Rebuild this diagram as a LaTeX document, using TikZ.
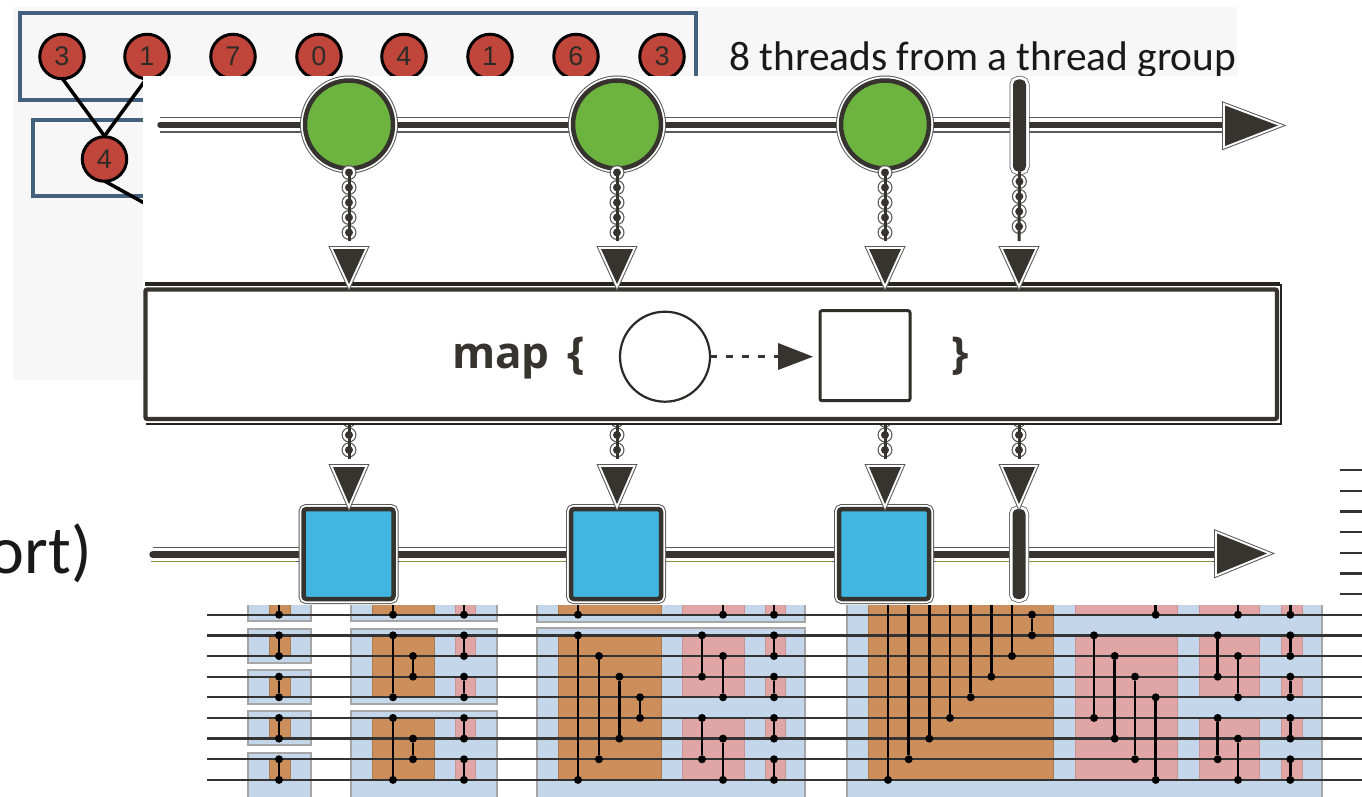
\documentclass[tikz,border=0pt]{standalone}
\usepackage{fontspec}
\setmainfont{Carlito}
\newfontfamily\digitfont{Liberation Sans}
\newfontfamily\mapfont{Open Sans}
\usetikzlibrary{calc}
\definecolor{slidebg}{HTML}{F7F7F7}
\definecolor{slideblue}{HTML}{44607F}
\definecolor{ballred}{HTML}{C0453A}
\definecolor{ink}{HTML}{37332E}
\definecolor{halo}{HTML}{5A5A5A}
\definecolor{marblegreen}{HTML}{6CB33F}
\definecolor{marbleblue}{HTML}{41B6E0}
\definecolor{olive}{HTML}{8F8F3A}
\definecolor{netblue}{HTML}{C3D6EA}
\definecolor{netorange}{HTML}{CC8F5C}
\definecolor{netpink}{HTML}{E0A5A5}
\newcount\cmpn
\tikzset{
  slidebox/.style={draw=slideblue,line width=4pt},
  ball/.style={circle,draw=black,line width=3pt,fill=ballred,minimum size=44.5pt,inner sep=0pt,outer sep=0pt,font=\digitfont\fontsize{27}{27}\selectfont,text=ink!85!black},
  balllink/.style={draw=black,line width=3.5pt},
  haloed/.style={preaction={draw=halo,line width=10pt},preaction={draw=white,line width=8pt}},
  marble/.style={circle,haloed,draw=ink,line width=4.5pt,fill=marblegreen,minimum size=88pt,inner sep=0pt,outer sep=0pt},
  squaremarble/.style={rectangle,rounded corners=3pt,haloed,draw=ink,line width=4.5pt,fill=marbleblue,minimum size=90pt,inner sep=0pt,outer sep=0pt},
  stopbar/.style={rectangle,rounded corners=5pt,preaction={draw=halo,line width=7pt},preaction={draw=white,line width=5.5pt},fill=ink,minimum width=13pt,inner sep=0pt,outer sep=0pt},
  rail/.style={draw=ink,line cap=round,line width=#1,preaction={draw=halo,line width=15.5pt},preaction={draw=white,line width=13pt}},
  headcore/.style={fill=ink,line join=round,preaction={draw=halo,line width=6pt},preaction={draw=white,line width=4pt}},
  beadA/.style={draw=halo,line width=15pt,line cap=round,dash pattern=on 0pt off 15pt},
  beadB/.style={draw=white,line width=12.5pt,line cap=round,dash pattern=on 0pt off 15pt},
  beadC/.style={draw=ink,line width=8pt,line cap=round,dash pattern=on 0pt off 15pt},
  beadlink/.style={draw=ink,line width=3pt},
  opbox/.style={rectangle,draw=ink,line width=4.4pt,fill=white,rounded corners=2pt,inner sep=0pt,outer sep=0pt},
  opedge/.style={draw=ink!70!black,line width=#1},
  opcircle/.style={circle,draw=ink!80!black,line width=2.2pt,minimum size=90pt,inner sep=0pt,outer sep=0pt},
  opsquare/.style={rectangle,rounded corners=2pt,draw=ink!90!black,line width=3pt,minimum size=90pt,inner sep=0pt,outer sep=0pt},
  opdash/.style={draw=ink,line width=2.6pt,dash pattern=on 6.5pt off 9.5pt},
  maplabel/.style={font=\mapfont\bfseries\fontsize{44}{44}\selectfont,text=ink,inner sep=0pt,outer sep=0pt},
  netbox/.style={fill=netblue,draw=black!35,line width=1.8pt},
  orangeband/.style={fill=netorange,draw=netorange!85!black,line width=.6pt},
  pinkband/.style={fill=netpink,draw=netpink!90!black,line width=.6pt},
  wire/.style={draw=black!80,line width=2.3pt},
  wdot/.style={circle,fill=black,minimum size=8pt,inner sep=0pt,outer sep=0pt},
  cmpline/.style={draw=black,line width=2.8pt}
}
\newcommand\beads[3]{%
  \draw[beadA,dash phase=#3] (#1) -- (#2);
  \draw[beadB,dash phase=#3] (#1) -- (#2);
  \draw[beadC,dash phase=#3] (#1) -- (#2);
  \draw[beadlink] (#1) -- (#2);
}
\newcommand\headdown[4]{\path[headcore] ({#1-#4},#2) -- ({#1+#4},#2) -- (#1,#3) -- cycle;}
\newcommand\cmp[3]{%
  \global\advance\cmpn by 1
  \pgfmathsetmacro\ya{614.7+20.65*#2}
  \pgfmathsetmacro\yb{614.7+20.65*#3}
  \node[wdot] (pa\the\cmpn) at (#1,\ya) {};
  \node[wdot] (pb\the\cmpn) at (#1,\yb) {};
  \draw[cmpline] (pa\the\cmpn) -- (pb\the\cmpn);
}
\newcommand\cmpt[2]{%
  \global\advance\cmpn by 1
  \pgfmathsetmacro\yb{614.7+20.65*#2}
  \coordinate (pa\the\cmpn) at (#1,605);
  \node[wdot] (pb\the\cmpn) at (#1,\yb) {};
  \draw[cmpline] (pa\the\cmpn) -- (pb\the\cmpn);
}
\newcommand\fiveb[3]{\foreach \a/\b in {600/614.7,635.3/656,676.7/697.3,718/738.7,759.3/780} \path[#1] (#2,\a) rectangle (#3,\b);}
\newcommand\threeb[3]{\foreach \a/\b in {600/614.7,635.3/697.3,718/780} \path[#1] (#2,\a) rectangle (#3,\b);}
\newcommand\pairs[1]{\cmpt{#1}{0}\cmp{#1}{1}{2}\cmp{#1}{3}{4}\cmp{#1}{5}{6}\cmp{#1}{7}{8}}
\begin{document}
\begin{tikzpicture}[x=1pt,y=-1pt]
\useasboundingbox (0,0) rectangle (1362,797);
\clip (0,0) rectangle (1362,797);
\fill[white] (0,0) rectangle (1362,797);
% slide behind
\fill[slidebg] (13,7) rectangle (1237,380);
\draw[slidebox] (19.5,13.5) rectangle (696,100);
\draw[slidebox] (33,120.5) rectangle (220,196);
\coordinate (midout) at (182,224);
\coordinate (t1s) at (62,78);
\coordinate (t2s) at (147,78);
\draw[balllink] (t1s) -- (104.5,136);
\draw[balllink] (t2s) -- (104.5,136);
\draw[balllink] (104.5,181) -- (midout);
\foreach \n/\x/\v in {1/62/3,2/147/1,3/233/7,4/319/0,5/404/4,6/490/1,7/576/6,8/662/3}
  \node[ball] (t\n) at (\x,56.5) {\v};
\node[ball] (mid) at (104.5,159) {4};
\node[anchor=base west,inner sep=0pt,font=\fontsize{41.4}{41.4}\selectfont,text=black!90] (threads) at (729,71) {8 threads from a thread group};
% white image
\fill[white] (143,76) rectangle (1362,605);
% large text fragment
\node[anchor=base east,inner sep=0pt,font=\fontsize{68}{68}\selectfont,text=black!90] (frag) at (92,573) {ort)};
% map box: inner frame plus the outer top, right and bottom edges
\node[opbox,minimum width=1131.5pt,minimum height=129.5pt] (op) at (711.2,354.2) {};
\draw[opedge=3.6pt] (145,284) -- (1280,284);
\draw[opedge=2pt] (1280.5,284) -- (1280.5,424) -- (146,424);
\node[maplabel,anchor=base west] (maptext) at (452,368) {map};
\node[maplabel,anchor=base west] (openbrace) at (567,368) {\{};
\node[opcircle] (opin) at (665,356.7) {};
\node[opsquare] (opout) at (865,355.7) {};
\coordinate (optip) at (813,356.7);
\coordinate (opbase) at (779,356.7);
\draw[opdash] (opin.east) -- (opbase);
\fill[ink] (778,343) -- (optip) -- (778,370) -- cycle;
\node[maplabel,anchor=base] (closebrace) at (960,368) {\}};
% upper timeline
\coordinate (railAstart) at (160,125);
\coordinate (railAend) at (1226,125);
\draw[rail=5.5pt] (railAstart) -- (railAend);
\path[headcore] (1225,105.5) -- (1278,125.5) -- (1225,146) -- cycle;
% lower timeline
\coordinate (railBstart) at (153,554.5);
\coordinate (railBend) at (1218,554.5);
\draw[rail=7.5pt] (railBstart) -- (railBend);
\draw[olive,line width=1.6pt] (151,561.6) -- (296,561.6) (400,561.6) -- (565,561.6) (667,561.6) -- (832,561.6) (936,561.6) -- (1212,561.6);
\path[headcore] (1217,533.5) -- (1267,553.5) -- (1217,574) -- cycle;
% coordinates where heads begin
\foreach \n/\x in {1/349,2/617,3/885,4/1019}{
  \coordinate (ha\n) at (\x,241);
  \coordinate (hb\n) at (\x,459);
}
% upper marbles
\node[marble] (c1) at (349,124.5) {};
\node[marble] (c2) at (617,124.5) {};
\node[marble] (c3) at (885,124.5) {};
\node[stopbar,minimum height=92pt] (s1) at (1019.5,125.5) {};
% bead connectors upper
\beads{c1.south}{ha1}{11}
\beads{c2.south}{ha2}{11}
\beads{c3.south}{ha3}{11}
\beads{s1.south}{ha4}{5}
\foreach \x in {349,617,885,1019} {\headdown{\x}{249}{284}{16}}
% lower marbles
\node[squaremarble] (q1) at (348.5,554) {};
\node[squaremarble] (q2) at (616,554) {};
\node[squaremarble] (q3) at (884,554) {};
\node[stopbar,minimum height=90pt] (s2) at (1019,554) {};
% bead connectors lower: drawn from the foot of the map box, first bead clear of it
\begin{scope}
\clip (300,425) rectangle (1100,470);
\beads{hb1 |- op.south}{hb1}{14}
\beads{hb2 |- op.south}{hb2}{14}
\beads{hb3 |- op.south}{hb3}{14}
\beads{hb4 |- op.south}{hb4}{14}
\end{scope}
\foreach \x in {349,617,885,1019} {\headdown{\x}{467}{504}{16}}
% sorting network bands
\begin{scope}
\clip (200,605) rectangle (1362,797);
\foreach \a/\b in {600/621,628.7/662.7,670/704,711/745,752.7/800}
  \path[netbox] (248,\a) rectangle (311,\b);
\foreach \a/\b in {600/621,628.7/704,711/800}
  \path[netbox] (351,\a) rectangle (496.6,\b);
\foreach \a/\b in {600/622,628/800}
  \path[netbox] (537,\a) rectangle (805,\b);
\path[netbox] (847,600) rectangle (1322,800);
\fiveb{orangeband}{269}{290}
\threeb{orangeband}{372}{434}
\fiveb{pinkband}{455}{475.5}
\foreach \a/\b in {600/614.7,635.3/780} \path[orangeband] (558,\a) rectangle (661,\b);
\threeb{pinkband}{682}{744}
\fiveb{pinkband}{765}{785}
\path[orangeband] (868,600) rectangle (1053,780);
\foreach \a/\b in {600/614.7,635.3/780} \path[pinkband] (1075,\a) rectangle (1177,\b);
\threeb{pinkband}{1199}{1259}
\fiveb{pinkband}{1281}{1302}
\end{scope}
% wires
\foreach \i in {0,...,8} {
  \pgfmathsetmacro\wy{614.7+20.65*\i}
  \coordinate (wl\i) at (207,\wy);
  \coordinate (wr\i) at (1362,\wy);
  \draw[wire] (wl\i) -- (wr\i);
}
\foreach \i in {1,...,7} {
  \pgfmathsetmacro\wy{614.7-20.65*\i}
  \coordinate (wsl\i) at (1340,\wy);
  \coordinate (wsr\i) at (1362,\wy);
  \draw[wire] (wsl\i) -- (wsr\i);
}
% comparators
\pairs{279}
\cmpt{393}{0}\cmp{393}{1}{4}\cmp{393}{5}{8}\cmp{413}{2}{3}\cmp{413}{6}{7}
\pairs{464}
\cmpt{578}{0}\cmp{578}{1}{8}\cmp{599}{2}{7}\cmp{619.4}{3}{6}\cmp{640}{4}{5}
\cmpt{723}{0}\cmp{702}{1}{3}\cmp{723}{2}{4}\cmp{702}{5}{7}\cmp{723}{6}{8}
\pairs{774}
\cmpt{888}{8}\cmpt{908.7}{7}\cmpt{929.3}{6}\cmpt{950}{5}\cmpt{970.7}{4}\cmpt{991.3}{3}\cmpt{1012}{2}
\cmp{1032}{0}{1}
\cmpt{1155.7}{0}\cmp{1094}{1}{5}\cmp{1114.7}{2}{6}\cmp{1135}{3}{7}\cmp{1155.7}{4}{8}
\cmpt{1238}{0}\cmp{1217.7}{1}{3}\cmp{1238}{2}{4}\cmp{1217.7}{5}{7}\cmp{1238}{6}{8}
\pairs{1290.3}
\end{tikzpicture}
\end{document}
